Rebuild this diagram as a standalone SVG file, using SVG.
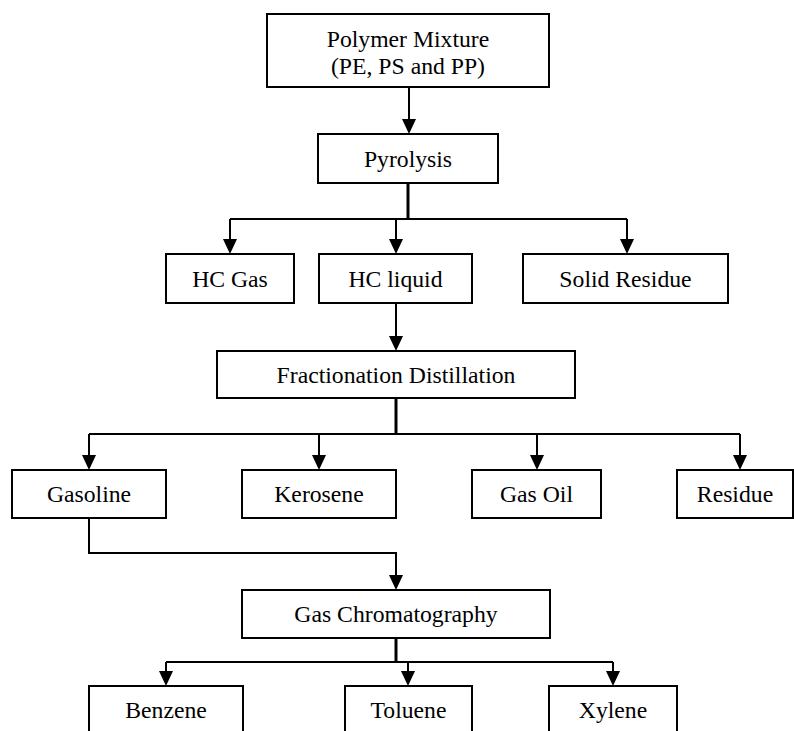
<svg xmlns="http://www.w3.org/2000/svg" width="794" height="731" viewBox="0 0 794 731">
<style>
.box rect{fill:#fff;stroke:#000;stroke-width:2}
.box text{font-family:"Liberation Serif","Times New Roman",serif;font-size:23.7px;fill:#000;text-anchor:middle}
.conn path{fill:none;stroke:#000;stroke-width:2}
.conn path.trunk{stroke-width:3}
</style>
<defs>
<marker id="arr" markerUnits="userSpaceOnUse" markerWidth="15" markerHeight="14" refX="0" refY="7" orient="auto" overflow="visible">
<path d="M0,0 L15,7 L0,14 Z" fill="#000"/>
</marker>
</defs>
<rect width="794" height="731" fill="#fff"/>
<g id="connectors" class="conn">
<path d="M409,87 V119" marker-end="url(#arr)"/>
<path class="trunk" d="M408,183 V219"/>
<path d="M230,219 H627"/>
<path d="M230,219 V239" marker-end="url(#arr)"/>
<path d="M396,219 V239" marker-end="url(#arr)"/>
<path d="M627,219 V239" marker-end="url(#arr)"/>
<path d="M396,303 V336" marker-end="url(#arr)"/>
<path class="trunk" d="M396,398 V434"/>
<path d="M89,434 H740"/>
<path d="M89,434 V455" marker-end="url(#arr)"/>
<path d="M319,434 V455" marker-end="url(#arr)"/>
<path d="M537,434 V455" marker-end="url(#arr)"/>
<path d="M740,434 V455" marker-end="url(#arr)"/>
<path d="M89,518 V553 H396 V575" marker-end="url(#arr)"/>
<path class="trunk" d="M396,638 V662"/>
<path d="M166,662 H613"/>
<path d="M166,662 V671" marker-end="url(#arr)"/>
<path d="M408,662 V671" marker-end="url(#arr)"/>
<path d="M613,662 V671" marker-end="url(#arr)"/>
</g>
<g id="polymer" class="box"><rect x="267" y="14" width="282" height="73"/><text x="408" y="46.5">Polymer Mixture</text><text x="408" y="74">(PE, PS and PP)</text></g>
<g id="pyrolysis" class="box"><rect x="318" y="134" width="180" height="49"/><text x="408" y="166.5">Pyrolysis</text></g>
<g id="hcgas" class="box"><rect x="166" y="254" width="128" height="49"/><text x="230" y="287">HC Gas</text></g>
<g id="hcliquid" class="box"><rect x="319" y="254" width="153" height="49"/><text x="395.5" y="287">HC liquid</text></g>
<g id="solidresidue" class="box"><rect x="523" y="254" width="205" height="49"/><text x="625.5" y="287">Solid Residue</text></g>
<g id="fractionation" class="box"><rect x="217" y="351" width="358" height="47"/><text x="396" y="383">Fractionation Distillation</text></g>
<g id="gasoline" class="box"><rect x="12" y="470" width="154" height="48"/><text x="89" y="502">Gasoline</text></g>
<g id="kerosene" class="box"><rect x="242" y="470" width="154" height="48"/><text x="319" y="502">Kerosene</text></g>
<g id="gasoil" class="box"><rect x="472" y="470" width="129" height="48"/><text x="536.5" y="502">Gas Oil</text></g>
<g id="residue" class="box"><rect x="677" y="470" width="116" height="48"/><text x="735" y="502">Residue</text></g>
<g id="gc" class="box"><rect x="242" y="590" width="308" height="48"/><text x="396" y="622">Gas Chromatography</text></g>
<g id="benzene" class="box"><rect x="89" y="686" width="154" height="50"/><text x="166" y="718">Benzene</text></g>
<g id="toluene" class="box"><rect x="345" y="686" width="127" height="50"/><text x="408.5" y="718">Toluene</text></g>
<g id="xylene" class="box"><rect x="549" y="686" width="128" height="50"/><text x="613" y="718">Xylene</text></g>
</svg>
